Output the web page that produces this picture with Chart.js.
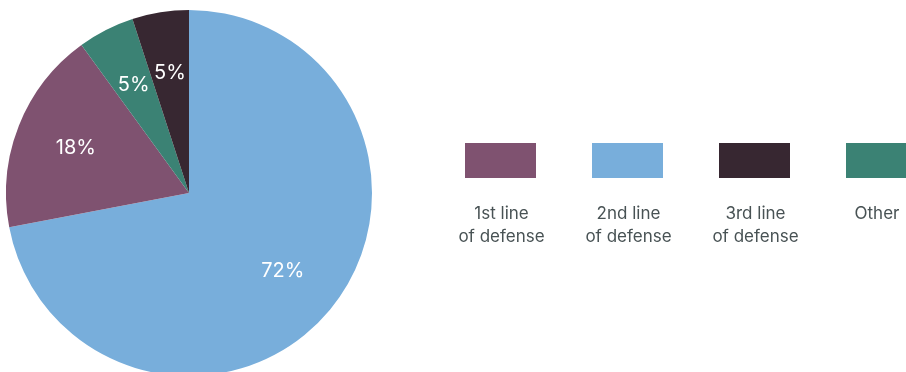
<!DOCTYPE html>
<html>
<head>
<meta charset="utf-8">
<script src="https://cdn.jsdelivr.net/npm/chart.js@4/dist/chart.umd.min.js"></script>
<style>
  html, body { margin: 0; padding: 0; width: 906px; height: 372px; overflow: hidden; background: #fff; }
  #wrap { position: absolute; left: 6px; top: 10px; width: 366px; height: 366px; }
  #legend { position: absolute; left: 0; top: 0; width: 906px; height: 372px; pointer-events: none; }
  .box { position: absolute; top: 143px; width: 71px; height: 35px; }
  .txt { position: absolute; top: 202px; transform: translateX(-50%); text-align: center; font-family: Inter, "Noto Sans", sans-serif; font-size: 17px; line-height: 23px; color: #485254; white-space: nowrap; }
</style>
</head>
<body>
<div id="wrap"><canvas id="c"></canvas></div>
<div id="legend"></div>
<script>
// Data (legend order)
const categories = ['1st line of defense', '2nd line of defense', '3rd line of defense', 'Other'];
const legendLines = [['1st line', 'of defense'], ['2nd line', 'of defense'], ['3rd line', 'of defense'], ['Other']];
const shares = [18, 72, 5, 5];
const colors = ['#7f5270', '#78aedb', '#372731', '#3b8274'];
// Clockwise drawing order of slices starting at 12 o'clock
const pieOrder = [1, 0, 3, 2];

const pieLabels = pieOrder.map(i => categories[i]);
const pieValues = pieOrder.map(i => shares[i]);
const pieColors = pieOrder.map(i => colors[i]);

const sliceLabels = {
  id: 'sliceLabels',
  afterDatasetsDraw(chart) {
    const ctx = chart.ctx;
    const meta = chart.getDatasetMeta(0);
    ctx.save();
    ctx.fillStyle = '#ffffff';
    ctx.font = '20px Inter, "Noto Sans", sans-serif';
    ctx.textAlign = 'center';
    ctx.textBaseline = 'middle';
    meta.data.forEach((arc, i) => {
      const p = arc.getProps(['x', 'y', 'startAngle', 'endAngle', 'outerRadius'], true);
      const mid = (p.startAngle + p.endAngle) / 2;
      const r = p.outerRadius * 0.665;
      ctx.fillText(pieValues[i] + '%', p.x + Math.cos(mid) * r, p.y + Math.sin(mid) * r);
    });
    ctx.restore();
  }
};

new Chart(document.getElementById('c'), {
  type: 'pie',
  data: {
    labels: pieLabels,
    datasets: [{
      data: pieValues,
      backgroundColor: pieColors,
      borderWidth: 0,
      hoverOffset: 0
    }]
  },
  options: {
    responsive: true,
    maintainAspectRatio: false,
    animation: false,
    layout: { padding: 0 },
    plugins: { legend: { display: false }, tooltip: { enabled: false } }
  },
  plugins: [sliceLabels]
});

// HTML legend
const legend = document.getElementById('legend');
const legendLeft = 465, legendStep = 127, boxW = 71, pageW = 906;
categories.forEach((cat, i) => {
  const left = legendLeft + i * legendStep;
  const visibleW = Math.min(boxW, pageW - left);
  const box = document.createElement('div');
  box.className = 'box';
  box.style.left = left + 'px';
  box.style.background = colors[i];
  const txt = document.createElement('div');
  txt.className = 'txt';
  txt.style.left = (left + visibleW / 2 + 1) + 'px';
  txt.innerHTML = legendLines[i].join('<br>');
  txt.title = cat;
  legend.appendChild(box);
  legend.appendChild(txt);
});
</script>
</body>
</html>
